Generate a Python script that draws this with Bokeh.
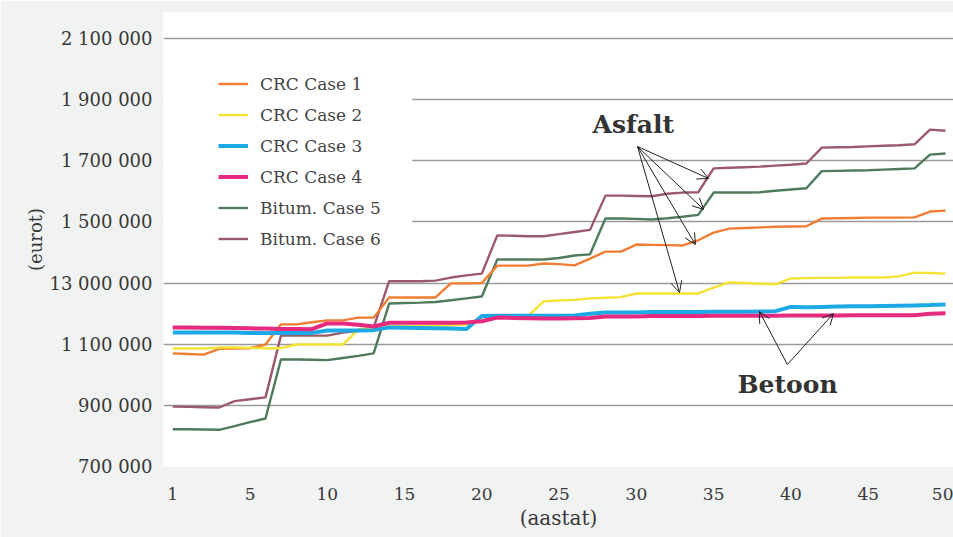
from bokeh.plotting import figure
from bokeh.models import (Range1d, FixedTicker, Legend, LegendItem, Label, Arrow,
                          OpenHead, BoxAnnotation)
from bokeh.embed import file_html
from bokeh.resources import INLINE

# ---------------- data ----------------
years = list(range(0, 51))

crc_case1 = [1070000, 1068000, 1066000, 1085000, 1086000, 1087000, 1099000, 1165000, 1165000, 1172000,
             1178000, 1178000, 1187000, 1187000, 1253000, 1253000, 1253000, 1253000, 1299000, 1299000,
             1300000, 1357000, 1357000, 1357000, 1364000, 1362000, 1358000, 1380000, 1403000, 1403000,
             1426000, 1425000, 1424000, 1423000, 1440000, 1465000, 1478000, 1480000, 1482000, 1484000,
             1485000, 1486000, 1511000, 1512000, 1513000, 1514000, 1514000, 1514000, 1515000, 1534000,
             1537000]

crc_case2 = [1086000, 1086000, 1086000, 1089000, 1089000, 1088000, 1087000, 1087000, 1099000, 1099000,
             1099000, 1099000, 1148000, 1155000, 1158000, 1160000, 1160000, 1161000, 1162000, 1164000,
             1188000, 1190000, 1191000, 1193000, 1240000, 1243000, 1245000, 1250000, 1252000, 1254000,
             1266000, 1266000, 1266000, 1266000, 1266000, 1285000, 1302000, 1300000, 1298000, 1296000,
             1315000, 1316000, 1317000, 1317000, 1318000, 1318000, 1318000, 1322000, 1334000, 1333000,
             1331000]

crc_case3 = [1138000, 1138000, 1138000, 1138000, 1138000, 1137000, 1137000, 1137000, 1137000, 1137000,
             1145000, 1145000, 1145000, 1146000, 1155000, 1154000, 1153000, 1152000, 1151000, 1150000,
             1192000, 1193000, 1193000, 1193000, 1193000, 1193000, 1194000, 1200000, 1204000, 1204000,
             1204000, 1205000, 1205000, 1205000, 1205000, 1206000, 1206000, 1206000, 1207000, 1208000,
             1222000, 1221000, 1222000, 1223000, 1224000, 1224000, 1225000, 1226000, 1227000, 1228000,
             1230000]

crc_case4 = [1155000, 1155000, 1154000, 1154000, 1153000, 1152000, 1151000, 1150000, 1150000, 1149000,
             1168000, 1168000, 1164000, 1158000, 1170000, 1170000, 1170000, 1170000, 1170000, 1171000,
             1175000, 1187000, 1186000, 1185000, 1184000, 1184000, 1185000, 1186000, 1191000, 1191000,
             1191000, 1192000, 1192000, 1192000, 1192000, 1193000, 1193000, 1193000, 1193000, 1193000,
             1194000, 1194000, 1194000, 1194000, 1195000, 1195000, 1195000, 1195000, 1195000, 1200000,
             1201000]

bitum_case5 = [822000, 822000, 821000, 820000, 832000, 845000, 857000, 1050000, 1050000, 1049000,
               1048000, 1055000, 1062000, 1070000, 1233000, 1235000, 1236000, 1238000, 1244000, 1250000,
               1256000, 1377000, 1377000, 1377000, 1377000, 1382000, 1390000, 1394000, 1511000, 1511000,
               1510000, 1508000, 1512000, 1517000, 1523000, 1596000, 1596000, 1596000, 1597000, 1602000,
               1606000, 1610000, 1666000, 1667000, 1668000, 1669000, 1671000, 1673000, 1675000, 1720000,
               1724000]

bitum_case6 = [896000, 895000, 894000, 893000, 914000, 920000, 926000, 1128000, 1128000, 1128000,
               1128000, 1138000, 1143000, 1155000, 1306000, 1306000, 1306000, 1308000, 1318000, 1325000,
               1331000, 1456000, 1455000, 1453000, 1453000, 1460000, 1467000, 1474000, 1586000, 1586000,
               1585000, 1584000, 1592000, 1596000, 1597000, 1675000, 1677000, 1679000, 1681000, 1684000,
               1687000, 1691000, 1743000, 1744000, 1745000, 1747000, 1749000, 1751000, 1754000, 1802000,
               1798000]

series_names = ["CRC Case 1", "CRC Case 2", "CRC Case 3", "CRC Case 4", "Bitum. Case 5", "Bitum. Case 6"]

y_ticks = [700000, 900000, 1100000, 1300000, 1500000, 1700000, 1900000, 2100000]
y_tick_labels = ["700 000", "900 000", "1 100 000", "13 000 000", "1 500 000", "1 700 000",
                 "1 900 000", "2 100 000"]
x_ticks = [0, 5, 10, 15, 20, 25, 30, 35, 40, 45, 50]
x_tick_labels = ["1", "5", "10", "15", "20", "25", "30", "35", "40", "45", "50"]

# ---------------- figure ----------------
FONT = "DejaVu Serif"
p = figure(width=953, height=537, output_backend="svg", toolbar_location=None,
           x_range=Range1d(-0.6, 50.52), y_range=Range1d(700000, 2185000),
           min_border_left=163, min_border_right=0, min_border_top=12, min_border_bottom=71)
p.background_fill_color = "white"
p.border_fill_color = "#f1f2f2"
p.outline_line_color = None

p.xgrid.visible = False
p.ygrid.grid_line_color = "#9a9a9a"
p.ygrid.grid_line_width = 1.5

p.yaxis.ticker = FixedTicker(ticks=y_ticks)
p.yaxis.major_label_overrides = dict(zip(y_ticks, y_tick_labels))
p.xaxis.ticker = FixedTicker(ticks=x_ticks)
p.xaxis.major_label_overrides = dict(zip(x_ticks, x_tick_labels))

for ax in (p.xaxis[0], p.yaxis[0]):
    ax.axis_line_color = None
    ax.major_tick_line_color = None
    ax.minor_tick_line_color = None
    ax.major_tick_out = 0
    ax.minor_tick_out = 0
    ax.major_label_text_font = FONT
    ax.major_label_text_color = "#383838"
    ax.axis_label_text_font = FONT
    ax.axis_label_text_font_style = "normal"
    ax.axis_label_text_color = "#383838"

p.yaxis.major_label_text_font_size = "18px"
p.yaxis.major_label_standoff = 11
p.yaxis.axis_label = "(eurot)"
p.yaxis.axis_label_text_font_size = "18px"
p.yaxis.axis_label_standoff = 0

p.xaxis.major_label_text_font_size = "17px"
p.xaxis.major_label_standoff = 21
p.xaxis.axis_label = "(aastat)"
p.xaxis.axis_label_text_font_size = "20px"
p.xaxis.axis_label_standoff = 3

# lines (bitumen first, CRC 3/4 on top)
r6 = p.line(years, bitum_case6, line_color="#9b5a6b", line_width=2.4)
r5 = p.line(years, bitum_case5, line_color="#4f7b5c", line_width=2.4)
r1 = p.line(years, crc_case1, line_color="#ef7d33", line_width=2.4)
r2 = p.line(years, crc_case2, line_color="#f5e333", line_width=2.4)
r3 = p.line(years, crc_case3, line_color="#1ca9e6", line_width=4)
r4 = p.line(years, crc_case4, line_color="#e52a80", line_width=4)

# white area behind legend (hides grid lines there)
cover = BoxAnnotation(left=-0.6, right=15.5, bottom=1345000, top=2060000,
                      fill_color="white", fill_alpha=1.0, line_color=None)
p.add_layout(cover)

legend = Legend(items=[LegendItem(label=n, renderers=[r]) for n, r in
                       zip(series_names, [r1, r2, r3, r4, r5, r6])],
                location=(55, 217), padding=0, spacing=10, glyph_width=30, glyph_height=21,
                label_height=21, label_standoff=12, background_fill_alpha=0,
                border_line_color=None, label_text_font=FONT, label_text_font_size="17px",
                label_text_color="#444444")
p.add_layout(legend)

# annotations
p.add_layout(Label(x=29.8, y=1818700, text="Asfalt", text_font=FONT, text_font_style="bold",
                   text_font_size="25px", text_align="center", text_baseline="middle",
                   text_color="#333333"))
p.add_layout(Label(x=39.78, y=968000, text="Betoon", text_font=FONT, text_font_style="bold",
                   text_font_size="25px", text_align="center", text_baseline="middle",
                   text_color="#333333"))

asfalt_start = (30.07, 1746700)
asfalt_tips = [(34.67, 1642000), (34.35, 1541000), (33.82, 1426000), (32.79, 1269000)]
betoon_start = (39.77, 1033600)
betoon_tips = [(37.96, 1207000), (42.75, 1200000)]

for start, tips in ((asfalt_start, asfalt_tips), (betoon_start, betoon_tips)):
    for tx, ty in tips:
        p.add_layout(Arrow(end=OpenHead(size=11, line_width=1, line_color="#222222"),
                           x_start=start[0], y_start=start[1], x_end=tx, y_end=ty,
                           line_width=1, line_color="#222222"))

open("out.html", "w").write(file_html(p, INLINE))
